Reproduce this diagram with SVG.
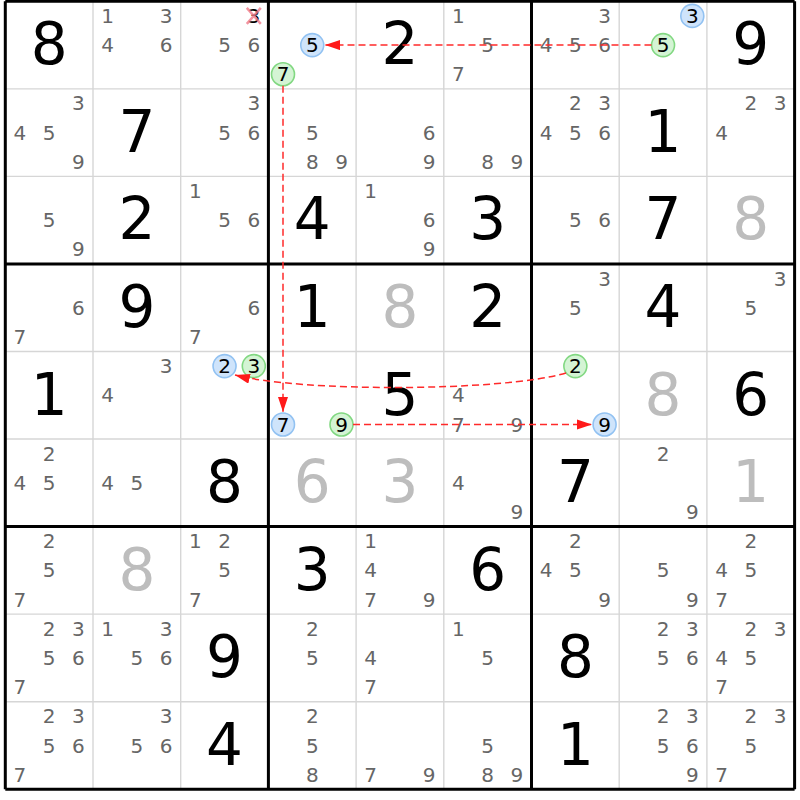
<svg xmlns="http://www.w3.org/2000/svg" width="800" height="800" viewBox="0 0 800 800">
<style>
text{font-family:"DejaVu Sans","Liberation Sans",sans-serif;text-anchor:middle}
.c{font-size:20px;fill:#666}
.k{font-size:20px;fill:#000}
.g{font-size:58px;fill:#000}
.s{font-size:58px;fill:#bdbdbd}
.thin{stroke:#d6d6d6;stroke-width:1.4}
.thick{stroke:#000;stroke-width:3}
.hb{fill:#cfe4fb;stroke:#92c2f2;stroke-width:1.6}
.hg{fill:#d4f4d4;stroke:#82d882;stroke-width:1.6}
.chain{fill:none;stroke:#ff2a2a;stroke-width:1.5;stroke-dasharray:7 4}
.x{stroke:#f07a8a;stroke-width:2.5;opacity:0.8}
</style>
<defs>
<marker id="ah" markerUnits="userSpaceOnUse" markerWidth="16" markerHeight="11" refX="15" refY="5" orient="auto">
<path d="M0,0 L15,5 L0,10 z" fill="#ff1a1a"/>
</marker>
</defs>
<rect x="0" y="0" width="800" height="800" fill="#fff"/>
<g id="grid">
<path class="thin" d="M93,1.3V789.25M180.7,1.3V789.25M356.1,1.3V789.25M443.8,1.3V789.25M619.2,1.3V789.25M706.9,1.3V789.25M5.3,88.85H794.6M5.3,176.4H794.6M5.3,351.5H794.6M5.3,439.05H794.6M5.3,614.15H794.6M5.3,701.7H794.6"/>
<path class="thick" d="M5.3,1.3V789.25M268.4,1.3V789.25M531.5,1.3V789.25M794.6,1.3V789.25M5.3,1.3H794.6M5.3,263.95H794.6M5.3,526.6H794.6M5.3,789.25H794.6"/>
</g>
<g id="r1c1"><text class="g" x="49.15" y="64.3">8</text></g>
<g id="r1c2"><text class="c" x="107.6" y="22.9">1</text><text class="c" x="166.1" y="22.9">3</text><text class="c" x="107.6" y="52.1">4</text><text class="c" x="166.1" y="52.1">6</text></g>
<g id="r1c3"><text class="k" x="253.8" y="22.9">3</text><path class="x" d="M246.8,7.9L260.8,23.9M260.8,7.9L246.8,23.9"/><text class="c" x="224.55" y="52.1">5</text><text class="c" x="253.8" y="52.1">6</text></g>
<g id="r1c4"><circle class="hb" cx="312.25" cy="45.1" r="11.5"/><text class="k" x="312.25" y="52.1">5</text><circle class="hg" cx="283" cy="74.25" r="11.5"/><text class="k" x="283" y="81.3">7</text></g>
<g id="r1c5"><text class="g" x="399.95" y="64.3">2</text></g>
<g id="r1c6"><text class="c" x="458.4" y="22.9">1</text><text class="c" x="487.65" y="52.1">5</text><text class="c" x="458.4" y="81.3">7</text></g>
<g id="r1c7"><text class="c" x="604.6" y="22.9">3</text><text class="c" x="546.1" y="52.1">4</text><text class="c" x="575.35" y="52.1">5</text><text class="c" x="604.6" y="52.1">6</text></g>
<g id="r1c8"><circle class="hb" cx="692.3" cy="15.9" r="11.5"/><text class="k" x="692.3" y="22.9">3</text><circle class="hg" cx="663.05" cy="45.1" r="11.5"/><text class="k" x="663.05" y="52.1">5</text></g>
<g id="r1c9"><text class="g" x="750.75" y="64.3">9</text></g>
<g id="r2c1"><text class="c" x="78.4" y="110.45">3</text><text class="c" x="19.9" y="139.65">4</text><text class="c" x="49.15" y="139.65">5</text><text class="c" x="78.4" y="168.85">9</text></g>
<g id="r2c2"><text class="g" x="136.85" y="151.85">7</text></g>
<g id="r2c3"><text class="c" x="253.8" y="110.45">3</text><text class="c" x="224.55" y="139.65">5</text><text class="c" x="253.8" y="139.65">6</text></g>
<g id="r2c4"><text class="c" x="312.25" y="139.65">5</text><text class="c" x="312.25" y="168.85">8</text><text class="c" x="341.5" y="168.85">9</text></g>
<g id="r2c5"><text class="c" x="429.2" y="139.65">6</text><text class="c" x="429.2" y="168.85">9</text></g>
<g id="r2c6"><text class="c" x="487.65" y="168.85">8</text><text class="c" x="516.9" y="168.85">9</text></g>
<g id="r2c7"><text class="c" x="575.35" y="110.45">2</text><text class="c" x="604.6" y="110.45">3</text><text class="c" x="546.1" y="139.65">4</text><text class="c" x="575.35" y="139.65">5</text><text class="c" x="604.6" y="139.65">6</text></g>
<g id="r2c8"><text class="g" x="663.05" y="151.85">1</text></g>
<g id="r2c9"><text class="c" x="750.75" y="110.45">2</text><text class="c" x="780" y="110.45">3</text><text class="c" x="721.5" y="139.65">4</text></g>
<g id="r3c1"><text class="c" x="49.15" y="227.2">5</text><text class="c" x="78.4" y="256.4">9</text></g>
<g id="r3c2"><text class="g" x="136.85" y="239.4">2</text></g>
<g id="r3c3"><text class="c" x="195.3" y="198">1</text><text class="c" x="224.55" y="227.2">5</text><text class="c" x="253.8" y="227.2">6</text></g>
<g id="r3c4"><text class="g" x="312.25" y="239.4">4</text></g>
<g id="r3c5"><text class="c" x="370.7" y="198">1</text><text class="c" x="429.2" y="227.2">6</text><text class="c" x="429.2" y="256.4">9</text></g>
<g id="r3c6"><text class="g" x="487.65" y="239.4">3</text></g>
<g id="r3c7"><text class="c" x="575.35" y="227.2">5</text><text class="c" x="604.6" y="227.2">6</text></g>
<g id="r3c8"><text class="g" x="663.05" y="239.4">7</text></g>
<g id="r3c9"><text class="s" x="750.75" y="239.4">8</text></g>
<g id="r4c1"><text class="c" x="78.4" y="314.75">6</text><text class="c" x="19.9" y="343.95">7</text></g>
<g id="r4c2"><text class="g" x="136.85" y="326.95">9</text></g>
<g id="r4c3"><text class="c" x="253.8" y="314.75">6</text><text class="c" x="195.3" y="343.95">7</text></g>
<g id="r4c4"><text class="g" x="312.25" y="326.95">1</text></g>
<g id="r4c5"><text class="s" x="399.95" y="326.95">8</text></g>
<g id="r4c6"><text class="g" x="487.65" y="326.95">2</text></g>
<g id="r4c7"><text class="c" x="604.6" y="285.55">3</text><text class="c" x="575.35" y="314.75">5</text></g>
<g id="r4c8"><text class="g" x="663.05" y="326.95">4</text></g>
<g id="r4c9"><text class="c" x="780" y="285.55">3</text><text class="c" x="750.75" y="314.75">5</text></g>
<g id="r5c1"><text class="g" x="49.15" y="414.5">1</text></g>
<g id="r5c2"><text class="c" x="166.1" y="373.1">3</text><text class="c" x="107.6" y="402.3">4</text></g>
<g id="r5c3"><circle class="hb" cx="224.55" cy="366.1" r="11.5"/><text class="k" x="224.55" y="373.1">2</text><circle class="hg" cx="253.8" cy="366.1" r="11.5"/><text class="k" x="253.8" y="373.1">3</text></g>
<g id="r5c4"><circle class="hb" cx="283" cy="424.45" r="11.5"/><text class="k" x="283" y="431.5">7</text><circle class="hg" cx="341.5" cy="424.45" r="11.5"/><text class="k" x="341.5" y="431.5">9</text></g>
<g id="r5c5"><text class="g" x="399.95" y="414.5">5</text></g>
<g id="r5c6"><text class="c" x="458.4" y="402.3">4</text><text class="c" x="458.4" y="431.5">7</text><text class="c" x="516.9" y="431.5">9</text></g>
<g id="r5c7"><circle class="hg" cx="575.35" cy="366.1" r="11.5"/><text class="k" x="575.35" y="373.1">2</text><circle class="hb" cx="604.6" cy="424.45" r="11.5"/><text class="k" x="604.6" y="431.5">9</text></g>
<g id="r5c8"><text class="s" x="663.05" y="414.5">8</text></g>
<g id="r5c9"><text class="g" x="750.75" y="414.5">6</text></g>
<g id="r6c1"><text class="c" x="49.15" y="460.65">2</text><text class="c" x="19.9" y="489.85">4</text><text class="c" x="49.15" y="489.85">5</text></g>
<g id="r6c2"><text class="c" x="107.6" y="489.85">4</text><text class="c" x="136.85" y="489.85">5</text></g>
<g id="r6c3"><text class="g" x="224.55" y="502.05">8</text></g>
<g id="r6c4"><text class="s" x="312.25" y="502.05">6</text></g>
<g id="r6c5"><text class="s" x="399.95" y="502.05">3</text></g>
<g id="r6c6"><text class="c" x="458.4" y="489.85">4</text><text class="c" x="516.9" y="519.05">9</text></g>
<g id="r6c7"><text class="g" x="575.35" y="502.05">7</text></g>
<g id="r6c8"><text class="c" x="663.05" y="460.65">2</text><text class="c" x="692.3" y="519.05">9</text></g>
<g id="r6c9"><text class="s" x="750.75" y="502.05">1</text></g>
<g id="r7c1"><text class="c" x="49.15" y="548.2">2</text><text class="c" x="49.15" y="577.4">5</text><text class="c" x="19.9" y="606.6">7</text></g>
<g id="r7c2"><text class="s" x="136.85" y="589.6">8</text></g>
<g id="r7c3"><text class="c" x="195.3" y="548.2">1</text><text class="c" x="224.55" y="548.2">2</text><text class="c" x="224.55" y="577.4">5</text><text class="c" x="195.3" y="606.6">7</text></g>
<g id="r7c4"><text class="g" x="312.25" y="589.6">3</text></g>
<g id="r7c5"><text class="c" x="370.7" y="548.2">1</text><text class="c" x="370.7" y="577.4">4</text><text class="c" x="370.7" y="606.6">7</text><text class="c" x="429.2" y="606.6">9</text></g>
<g id="r7c6"><text class="g" x="487.65" y="589.6">6</text></g>
<g id="r7c7"><text class="c" x="575.35" y="548.2">2</text><text class="c" x="546.1" y="577.4">4</text><text class="c" x="575.35" y="577.4">5</text><text class="c" x="604.6" y="606.6">9</text></g>
<g id="r7c8"><text class="c" x="663.05" y="577.4">5</text><text class="c" x="692.3" y="606.6">9</text></g>
<g id="r7c9"><text class="c" x="750.75" y="548.2">2</text><text class="c" x="721.5" y="577.4">4</text><text class="c" x="750.75" y="577.4">5</text><text class="c" x="721.5" y="606.6">7</text></g>
<g id="r8c1"><text class="c" x="49.15" y="635.75">2</text><text class="c" x="78.4" y="635.75">3</text><text class="c" x="49.15" y="664.95">5</text><text class="c" x="78.4" y="664.95">6</text><text class="c" x="19.9" y="694.15">7</text></g>
<g id="r8c2"><text class="c" x="107.6" y="635.75">1</text><text class="c" x="166.1" y="635.75">3</text><text class="c" x="136.85" y="664.95">5</text><text class="c" x="166.1" y="664.95">6</text></g>
<g id="r8c3"><text class="g" x="224.55" y="677.15">9</text></g>
<g id="r8c4"><text class="c" x="312.25" y="635.75">2</text><text class="c" x="312.25" y="664.95">5</text></g>
<g id="r8c5"><text class="c" x="370.7" y="664.95">4</text><text class="c" x="370.7" y="694.15">7</text></g>
<g id="r8c6"><text class="c" x="458.4" y="635.75">1</text><text class="c" x="487.65" y="664.95">5</text></g>
<g id="r8c7"><text class="g" x="575.35" y="677.15">8</text></g>
<g id="r8c8"><text class="c" x="663.05" y="635.75">2</text><text class="c" x="692.3" y="635.75">3</text><text class="c" x="663.05" y="664.95">5</text><text class="c" x="692.3" y="664.95">6</text></g>
<g id="r8c9"><text class="c" x="750.75" y="635.75">2</text><text class="c" x="780" y="635.75">3</text><text class="c" x="721.5" y="664.95">4</text><text class="c" x="750.75" y="664.95">5</text><text class="c" x="721.5" y="694.15">7</text></g>
<g id="r9c1"><text class="c" x="49.15" y="723.3">2</text><text class="c" x="78.4" y="723.3">3</text><text class="c" x="49.15" y="752.5">5</text><text class="c" x="78.4" y="752.5">6</text><text class="c" x="19.9" y="781.7">7</text></g>
<g id="r9c2"><text class="c" x="166.1" y="723.3">3</text><text class="c" x="136.85" y="752.5">5</text><text class="c" x="166.1" y="752.5">6</text></g>
<g id="r9c3"><text class="g" x="224.55" y="764.7">4</text></g>
<g id="r9c4"><text class="c" x="312.25" y="723.3">2</text><text class="c" x="312.25" y="752.5">5</text><text class="c" x="312.25" y="781.7">8</text></g>
<g id="r9c5"><text class="c" x="370.7" y="781.7">7</text><text class="c" x="429.2" y="781.7">9</text></g>
<g id="r9c6"><text class="c" x="487.65" y="752.5">5</text><text class="c" x="487.65" y="781.7">8</text><text class="c" x="516.9" y="781.7">9</text></g>
<g id="r9c7"><text class="g" x="575.35" y="764.7">1</text></g>
<g id="r9c8"><text class="c" x="663.05" y="723.3">2</text><text class="c" x="692.3" y="723.3">3</text><text class="c" x="663.05" y="752.5">5</text><text class="c" x="692.3" y="752.5">6</text><text class="c" x="692.3" y="781.7">9</text></g>
<g id="r9c9"><text class="c" x="750.75" y="723.3">2</text><text class="c" x="780" y="723.3">3</text><text class="c" x="750.75" y="752.5">5</text><text class="c" x="721.5" y="781.7">7</text></g>
<g id="connectors">
<path class="chain" marker-end="url(#ah)" d="M651.5,45.1 L325,45.1"/>
<path class="chain" marker-end="url(#ah)" d="M283,85.8 L283,412"/>
<path class="chain" marker-end="url(#ah)" d="M353,424.45 L592,424.45"/>
<path class="chain" marker-end="url(#ah)" d="M566,373 C500,392 300,392 235,375"/>
</g>
</svg>
